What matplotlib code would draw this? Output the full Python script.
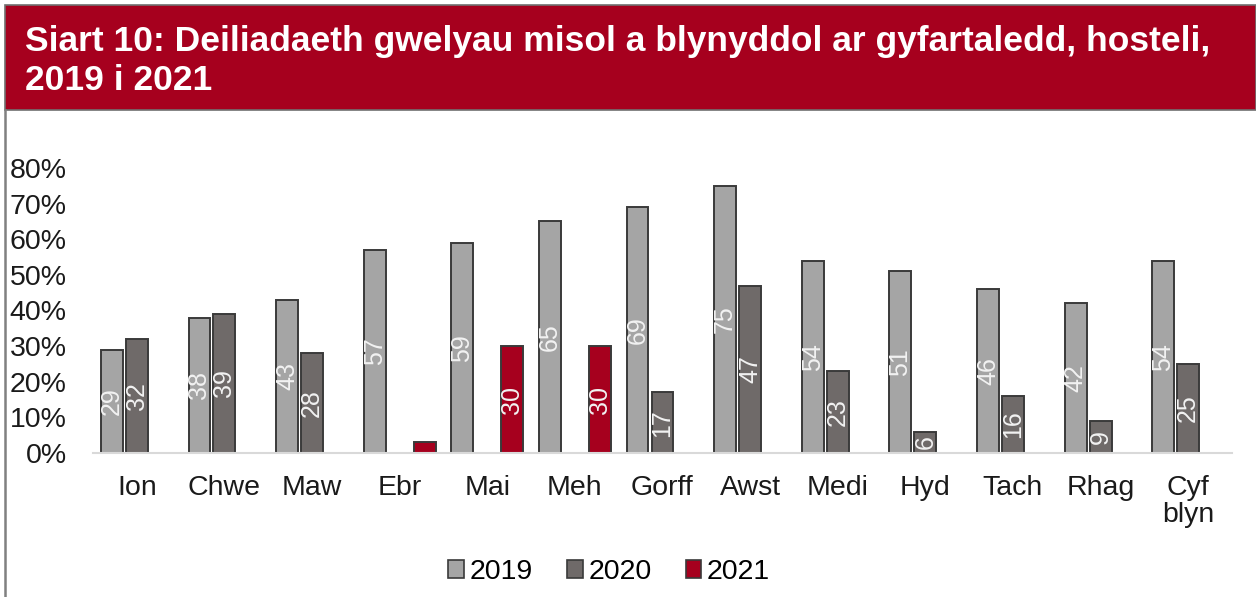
import matplotlib
matplotlib.use("Agg")
import matplotlib.pyplot as plt
from matplotlib.patches import Rectangle, Patch
from matplotlib.lines import Line2D
import numpy as np

plt.rcParams['font.family'] = ['Liberation Sans', 'DejaVu Sans']

months = ['Ion', 'Chwe', 'Maw', 'Ebr', 'Mai', 'Meh', 'Gorff', 'Awst',
          'Medi', 'Hyd', 'Tach', 'Rhag', 'Cyf\nblyn']
v2019 = [29, 38, 43, 57, 59, 65, 69, 75, 54, 51, 46, 42, 54]
v2020 = [32, 39, 28, None, None, None, 17, 47, 23, 6, 16, 9, 25]
v2021 = [None, None, None, 3, 30, 30, None, None, None, None, None, None, None]
years = ['2019', '2020', '2021']
colors = ['#a5a5a5', '#6f6a69', '#a6001e']

W, H = 1256, 597
fig = plt.figure(figsize=(W / 100, H / 100), dpi=100)

# banner
fig.patches.append(Rectangle((5 / W, 1 - 110 / H), 1 - 5 / W, 105 / H,
                             transform=fig.transFigure, facecolor='#a6001e',
                             edgecolor='#707070', linewidth=1.2))
fig.lines.append(Line2D([5 / W, 5 / W], [0, 1 - 110 / H], transform=fig.transFigure,
                        color='#808080', linewidth=1.8))
fig.text(25 / W, 1 - 41 / H,
         'Siart 10: Deiliadaeth gwelyau misol a blynyddol ar gyfartaledd, hosteli,',
         color='white', fontsize=25.5, fontweight='bold', va='center', ha='left')
fig.text(25 / W, 1 - 81 / H, '2019 i 2021',
         color='white', fontsize=25.5, fontweight='bold', va='center', ha='left')

ax = fig.add_axes([93 / W, 1 - 453 / H, (1232 - 93) / W, (453 - 168) / H])

x = np.arange(len(months))
width = 0.25
offsets = [-0.285, 0, 0.285]
for vals, off, col, yr in zip([v2019, v2020, v2021], offsets, colors, years):
    for xi, v in zip(x, vals):
        if v is None:
            continue
        b = ax.bar(xi + off, v, width, color=col, edgecolor='#3a3a3a',
                   linewidth=1.4, clip_on=False)[0]
        if v >= 5:
            t = ax.text(xi + off, v / 2, str(v), rotation=90, ha='center',
                        va='center', color='#f2f2f2', fontsize=18)
            t.set_clip_path(b)

ax.set_xlim(-0.5, len(months) - 0.5)
ax.set_ylim(0, 80)
ax.set_yticks(np.arange(0, 81, 10))
ax.set_yticklabels([f'{v}%' for v in range(0, 81, 10)])
ax.set_xticks(x)
ax.set_xticklabels(months, linespacing=1.05)
ax.tick_params(axis='y', length=0, pad=19, labelsize=20.5, labelcolor='#1a1a1a')
ax.tick_params(axis='x', length=0, pad=16, labelsize=20.5, labelcolor='#1a1a1a')
for s in ['top', 'right', 'left']:
    ax.spines[s].set_visible(False)
ax.spines['bottom'].set_color('#d9d9d9')
ax.spines['bottom'].set_linewidth(1.5)

handles = [Patch(facecolor=c, edgecolor='#3a3a3a', linewidth=1.2) for c in colors]
fig.legend(handles, years, loc='center', bbox_to_anchor=(0.485, 1 - 572 / H),
           ncol=3, frameon=False, fontsize=20.5, handlelength=0.55, handleheight=0.55,
           handletextpad=0.2, columnspacing=1.2)

fig.savefig('out.png', dpi=100)
